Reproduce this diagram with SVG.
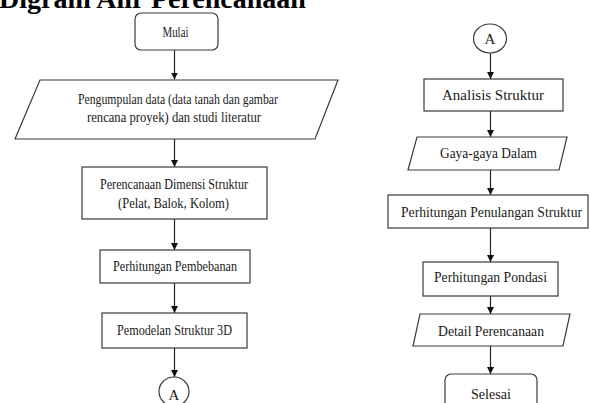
<svg xmlns="http://www.w3.org/2000/svg" width="590" height="403" viewBox="0 0 590 403">
<style>
.s{fill:#fff;stroke:#3a3a3a;stroke-width:1.2}
.t{font-family:"Liberation Serif","Times New Roman",serif;font-size:15px;fill:#1a1a1a;text-anchor:middle}
.c{stroke:#222;stroke-width:1.2;fill:none}
.title{font-family:"Liberation Serif","Times New Roman",serif;font-size:28px;font-weight:bold;fill:#000}
</style>
<defs>
<marker id="ah" markerUnits="userSpaceOnUse" markerWidth="7" markerHeight="8" refX="7" refY="3.5" orient="auto">
<path d="M0,0 L7,3.5 L0,7 z" fill="#111"/>
</marker>
</defs>
<rect width="590" height="403" fill="#fff"/>
<text class="title" x="-1" y="8">Digram Alir Perencanaan</text>

<g id="connectors">
<line class="c" x1="174.5" y1="50" x2="174.5" y2="79.5" marker-end="url(#ah)"/>
<line class="c" x1="174.5" y1="139" x2="174.5" y2="167" marker-end="url(#ah)"/>
<line class="c" x1="174.5" y1="219" x2="174.5" y2="250" marker-end="url(#ah)"/>
<line class="c" x1="174.5" y1="283" x2="174.5" y2="313" marker-end="url(#ah)"/>
<line class="c" x1="174.5" y1="348" x2="174.5" y2="377" marker-end="url(#ah)"/>
<line class="c" x1="490.5" y1="53" x2="490.5" y2="79" marker-end="url(#ah)"/>
<line class="c" x1="490.5" y1="111" x2="490.5" y2="137" marker-end="url(#ah)"/>
<line class="c" x1="490.5" y1="170" x2="490.5" y2="195" marker-end="url(#ah)"/>
<line class="c" x1="490.5" y1="228" x2="490.5" y2="262" marker-end="url(#ah)"/>
<line class="c" x1="490.5" y1="296" x2="490.5" y2="314" marker-end="url(#ah)"/>
<line class="c" x1="490.5" y1="346" x2="490.5" y2="374" marker-end="url(#ah)"/>
</g>

<g id="mulai">
<rect class="s" x="135" y="13" width="83" height="37" rx="6"/>
<text class="t" x="175.5" y="37" textLength="26" lengthAdjust="spacingAndGlyphs">Mulai</text>
</g>
<g id="pengumpulan">
<polygon class="s" points="40,80 338,80 315,139 15,139"/>
<text class="t" x="178" y="103.5" textLength="200" lengthAdjust="spacingAndGlyphs">Pengumpulan data (data tanah dan gambar</text>
<text class="t" x="174" y="122" textLength="174" lengthAdjust="spacingAndGlyphs">rencana proyek) dan studi literatur</text>
</g>
<g id="perencanaan">
<rect class="s" x="82" y="167" width="185" height="52"/>
<text class="t" x="174" y="188.5" textLength="148" lengthAdjust="spacingAndGlyphs">Perencanaan Dimensi Struktur</text>
<text class="t" x="173.5" y="207.5" textLength="111" lengthAdjust="spacingAndGlyphs">(Pelat, Balok, Kolom)</text>
</g>
<g id="pembebanan">
<rect class="s" x="100" y="250" width="150" height="33"/>
<text class="t" x="175" y="271" textLength="124" lengthAdjust="spacingAndGlyphs">Perhitungan Pembebanan</text>
</g>
<g id="pemodelan">
<rect class="s" x="102" y="313" width="145" height="35"/>
<text class="t" x="174.5" y="335" textLength="115" lengthAdjust="spacingAndGlyphs">Pemodelan Struktur 3D</text>
</g>
<g id="a-left">
<ellipse class="s" cx="174" cy="391.5" rx="15" ry="14.5"/>
<text class="t" x="174" y="400">A</text>
</g>

<g id="a-right">
<ellipse class="s" cx="490" cy="38.5" rx="16.5" ry="14.5"/>
<text class="t" x="490" y="43.5">A</text>
</g>
<g id="analisis">
<rect class="s" x="424" y="79" width="139" height="32"/>
<text class="t" x="493" y="100" textLength="102" lengthAdjust="spacingAndGlyphs">Analisis Struktur</text>
</g>
<g id="gaya">
<polygon class="s" points="417,137 567,137 559,170 408,170"/>
<text class="t" x="488.5" y="158" textLength="97" lengthAdjust="spacingAndGlyphs">Gaya-gaya Dalam</text>
</g>
<g id="penulangan">
<rect class="s" x="388" y="195" width="200" height="33"/>
<text class="t" x="491.5" y="217" style="font-size:14px" textLength="181" lengthAdjust="spacingAndGlyphs">Perhitungan Penulangan Struktur</text>
</g>
<g id="pondasi">
<rect class="s" x="423" y="262" width="135" height="34"/>
<text class="t" x="490.5" y="281.5" textLength="113" lengthAdjust="spacingAndGlyphs">Perhitungan Pondasi</text>
</g>
<g id="detail">
<polygon class="s" points="420,314 570,314 563,346 413,346"/>
<text class="t" x="491" y="336" textLength="106" lengthAdjust="spacingAndGlyphs">Detail Perencanaan</text>
</g>
<g id="selesai">
<rect class="s" x="445" y="374" width="92" height="45" rx="6"/>
<text class="t" x="491" y="398.5" textLength="40" lengthAdjust="spacingAndGlyphs">Selesai</text>
</g>
</svg>
